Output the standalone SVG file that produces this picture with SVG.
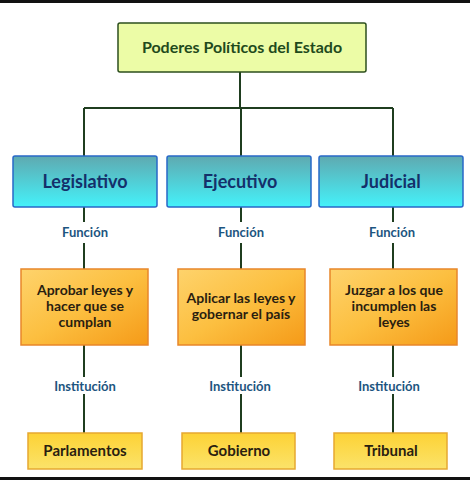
<svg xmlns="http://www.w3.org/2000/svg" width="470" height="480" viewBox="0 0 470 480">
<defs>
<linearGradient id="gBlue" x1="0" y1="0" x2="0" y2="1"><stop offset="0" stop-color="#5fa9b0"/><stop offset="1" stop-color="#44f2fa"/></linearGradient>
<linearGradient id="gOrange" x1="0" y1="0" x2="1" y2="1"><stop offset="0" stop-color="#fed36c"/><stop offset="0.5" stop-color="#fcbf40"/><stop offset="1" stop-color="#f59a18"/></linearGradient>
<linearGradient id="gYellow" x1="0" y1="0" x2="0" y2="1"><stop offset="0" stop-color="#fdd235"/><stop offset="1" stop-color="#fbe36a"/></linearGradient>
<style>
.t{font-family:Lato,"Open Sans",sans-serif;font-weight:bold;text-anchor:middle}
.ln{stroke:#1f3d1f;stroke-width:2;fill:none}
.lab{font-size:13px;fill:#1d5580}
.blue{fill:url(#gBlue);stroke:#2868c8;stroke-width:1.5}
.or{fill:url(#gOrange);stroke:#e8862a;stroke-width:1.5}
.ye{fill:url(#gYellow);stroke:#e6a830;stroke-width:1.5}
.ot{font-size:14px;fill:#2a1e10}
</style>
</defs>
<rect x="0" y="0" width="470" height="480" fill="#ffffff"/>
<rect x="0" y="0" width="470" height="3" fill="#111"/>
<rect x="0" y="477" width="470" height="3" fill="#111"/>
<g id="connectors">
<path class="ln" d="M240 72V108M84 108H393M84 108V156M241 108V156M393 108V156"/>
<path class="ln" d="M84 207V222M84 243V269M84 345V377M84 394V433"/>
<path class="ln" d="M241 207V222M241 243V269M241 345V377M241 394V433"/>
<path class="ln" d="M393 207V222M393 243V269M393 345V377M393 394V433"/>
<text class="t lab" x="85" y="237">Función</text>
<text class="t lab" x="241" y="237">Función</text>
<text class="t lab" x="392" y="237">Función</text>
<text class="t lab" x="85" y="391">Institución</text>
<text class="t lab" x="240" y="391">Institución</text>
<text class="t lab" x="389" y="391">Institución</text>
</g>
<g id="root">
<rect x="118" y="23" width="248" height="49" rx="2" fill="#ecfca6" stroke="#2d4f1e" stroke-width="1.5"/>
<text class="t" x="242" y="53" font-size="16" fill="#1f4a1c">Poderes Políticos del Estado</text>
</g>
<g id="legislativo">
<rect class="blue" x="13" y="156" width="144" height="51" rx="2"/>
<text class="t" x="85" y="188" font-size="18" fill="#14306a">Legislativo</text>
</g>
<g id="ejecutivo">
<rect class="blue" x="167" y="156" width="144" height="51" rx="2"/>
<text class="t" x="240" y="188" font-size="18" fill="#14306a">Ejecutivo</text>
</g>
<g id="judicial">
<rect class="blue" x="319" y="156" width="144" height="51" rx="2"/>
<text class="t" x="391" y="188" font-size="18" fill="#14306a">Judicial</text>
</g>
<g id="f-legislativo">
<rect class="or" x="21" y="269" width="127" height="76"/>
<text class="t ot"><tspan x="85" y="295">Aprobar leyes y</tspan><tspan x="85" y="311">hacer que se</tspan><tspan x="85" y="327">cumplan</tspan></text>
</g>
<g id="f-ejecutivo">
<rect class="or" x="178" y="269" width="127" height="76"/>
<text class="t ot"><tspan x="241" y="303">Aplicar las leyes y</tspan><tspan x="241" y="319">gobernar el país</tspan></text>
</g>
<g id="f-judicial">
<rect class="or" x="330" y="269" width="127" height="76"/>
<text class="t ot"><tspan x="394" y="295">Juzgar a los que</tspan><tspan x="394" y="311">incumplen las</tspan><tspan x="394" y="327">leyes</tspan></text>
</g>
<g id="parlamentos">
<rect class="ye" x="28" y="433" width="114" height="36"/>
<text class="t" x="85" y="456" font-size="15" fill="#2a1e10">Parlamentos</text>
</g>
<g id="gobierno">
<rect class="ye" x="182" y="433" width="113" height="36"/>
<text class="t" x="239" y="456" font-size="15" fill="#2a1e10">Gobierno</text>
</g>
<g id="tribunal">
<rect class="ye" x="334" y="433" width="113" height="36"/>
<text class="t" x="391" y="456" font-size="15" fill="#2a1e10">Tribunal</text>
</g>
</svg>
